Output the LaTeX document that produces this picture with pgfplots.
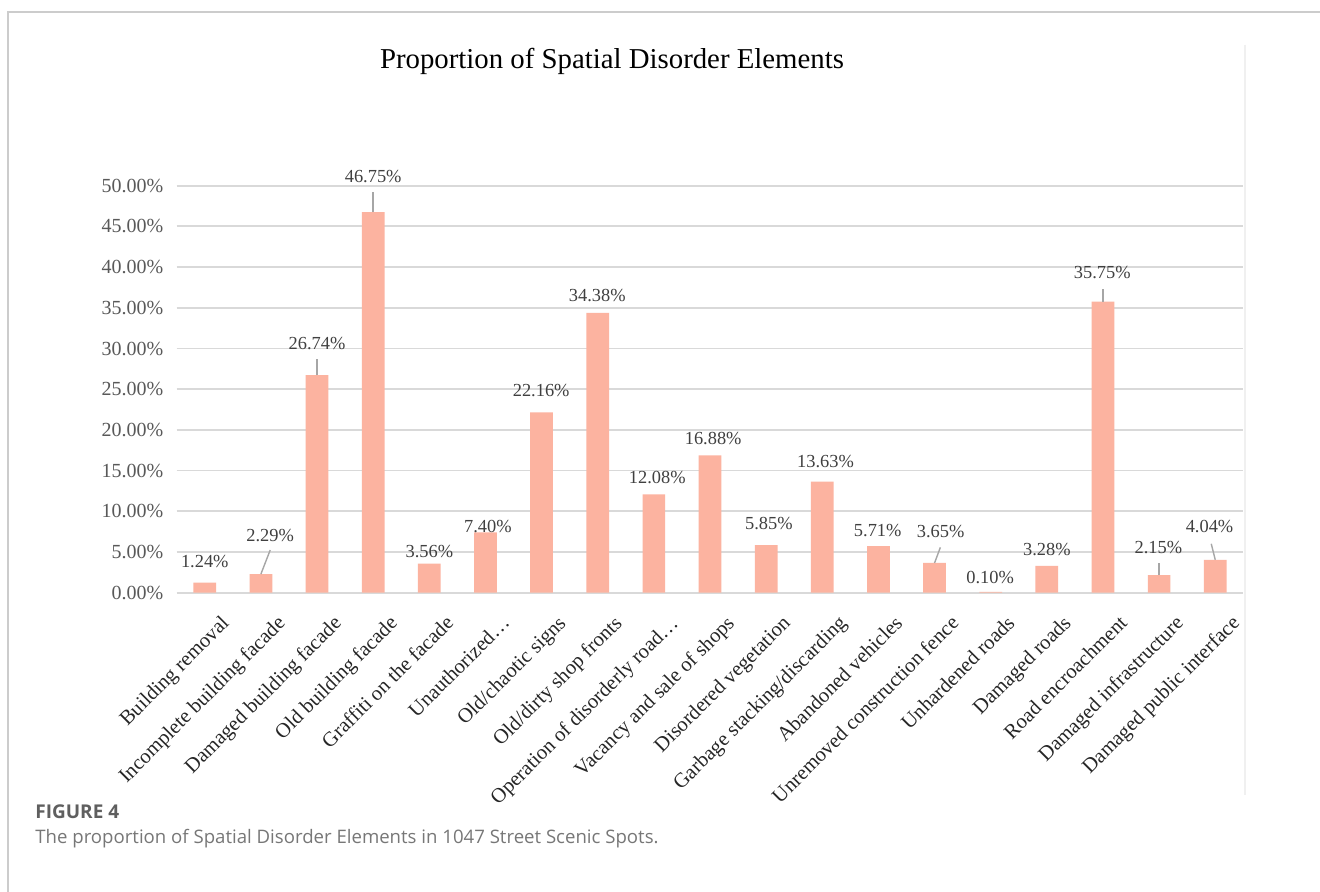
\documentclass[border=0pt]{standalone}
\usepackage{fontspec}
\setmainfont{Liberation Serif}
\newfontfamily\capfont{Open Sans}
\usepackage{pgfplots}
\usepackage{pgfplotstable}
\pgfplotsset{compat=1.18}
\definecolor{barcol}{HTML}{FCB3A0}
\definecolor{gridc}{HTML}{D9D9D9}
\definecolor{lblc}{HTML}{404040}
\definecolor{tickc}{HTML}{595959}
\definecolor{xlc}{HTML}{262626}
\definecolor{capc}{HTML}{5F5F5F}
\definecolor{framec}{HTML}{CCCCCC}
\definecolor{leadc}{HTML}{A6A6A6}

\pgfplotstableread{
x  y     dx     dy
0  1.24  0      10.5
1  2.29  4.65   19.5
2  26.74 0      16
3  46.75 0      18
4  3.56  0      6.15
5  7.40  1.25   3
6  22.16 -0.2   10.95
7  34.38 -0.2   8.7
8  12.08 1.7    8.2
9  16.88 1.6    8.3
10 5.85  1.4    11
11 13.63 1.6    10.2
12 5.71  -0.35  7.9
13 3.65  3.05   15.8
14 0.10  -0.25  7
15 3.28  0      8.15
16 35.75 -0.35  14.35
17 2.15  -0.35  13.9
18 4.04  -2.85  16.7
}\datatable

\begin{document}
\begin{tikzpicture}
\useasboundingbox (0,0) rectangle (660pt,446pt);
\fill[white] (0,0) rectangle (660pt,446pt);
\draw[framec, line width=0.8pt] (4pt,0) -- (4pt,440pt) -- (660pt,440pt);
\draw[black!6, line width=0.6pt] (622.5pt,423.5pt) -- (622.5pt,48.5pt);

\node[font=\fontsize{14.4}{17}\selectfont, anchor=base, inner sep=0pt] at (306pt,411.5pt) {Proportion of Spatial Disorder Elements};

\begin{axis}[
  at={(88.35pt,149.65pt)}, anchor=south west,
  scale only axis, width=533.3pt, height=203.5pt,
  xmin=-0.5, xmax=18.5, ymin=0, ymax=50,
  ytick={0,5,...,50},
  xtick={0,...,18},
  xticklabels={Building removal, Incomplete building facade, Damaged building facade, Old building facade, Graffiti on the facade, Unauthorized…, Old/chaotic signs, Old/dirty shop fronts, Operation of disorderly road…, Vacancy and sale of shops, Disordered vegetation, Garbage stacking/discarding, Abandoned vehicles, Unremoved construction fence, Unhardened roads, Damaged roads, Road encroachment, Damaged infrastructure, Damaged public interface},
  axis line style={draw=none},
  major tick length=0pt,
  ymajorgrids,
  grid style={gridc, line width=0.9pt},
  clip=false,
  yticklabel={\pgfmathprintnumber[fixed,fixed zerofill,precision=2,assume math mode=true]{\tick}\%},
  yticklabel style={font=\fontsize{10}{12}\selectfont, text=tickc, anchor=east, inner sep=0pt, xshift=-6.5pt},
  xticklabel style={font=\fontsize{10.3}{12}\selectfont, text=xlc, inner sep=0pt, xshift=7.5pt, yshift=-10.5pt, rotate=45, anchor=north east},
]
\addplot[ybar, bar width=11.35pt, fill=barcol, draw=none] table[x=x,y=y]{\datatable};
\addplot[draw=none, mark=none, point meta=explicit,
  nodes near coords={\pgfmathprintnumber[fixed,fixed zerofill,precision=2,assume math mode=true]{\pgfplotspointmeta}\%},
  visualization depends on={\thisrow{dx}\as\dx},
  visualization depends on={\thisrow{dy}\as\dy},
  every node near coord/.append style={anchor=center, inner sep=0pt, xshift=\dx pt, yshift=\dy pt, font=\fontsize{9.2}{11}\selectfont, text=lblc}
] table[x=x,y=y,meta=y]{\datatable};
% leader lines
\draw[leadc, line width=0.7pt] (axis cs:1,2.29) -- ++(4.65pt,12pt);
\draw[leadc, line width=0.7pt] (axis cs:2,26.74) -- ++(0pt,8pt);
\draw[leadc, line width=0.7pt] (axis cs:3,46.75) -- ++(0pt,10.25pt);
\draw[leadc, line width=0.7pt] (axis cs:13,3.65) -- ++(2.9pt,7.8pt);
\draw[leadc, line width=0.7pt] (axis cs:16,35.75) -- ++(0pt,6.25pt);
\draw[leadc, line width=0.7pt] (axis cs:17,2.15) -- ++(0pt,6pt);
\draw[leadc, line width=0.7pt] (axis cs:18,4.04) -- ++(-2pt,8pt);
\end{axis}

\node[anchor=base west, inner sep=0pt, font=\capfont\bfseries\fontsize{9.5}{11}\selectfont, text=capc] at (17.5pt,36.5pt) {FIGURE 4};
\node[anchor=base west, inner sep=0pt, font=\capfont\fontsize{9.3}{11}\selectfont, text=capc!85!white] at (17.5pt,24pt) {The proportion of Spatial Disorder Elements in 1047 Street Scenic Spots.};
\end{tikzpicture}
\end{document}
